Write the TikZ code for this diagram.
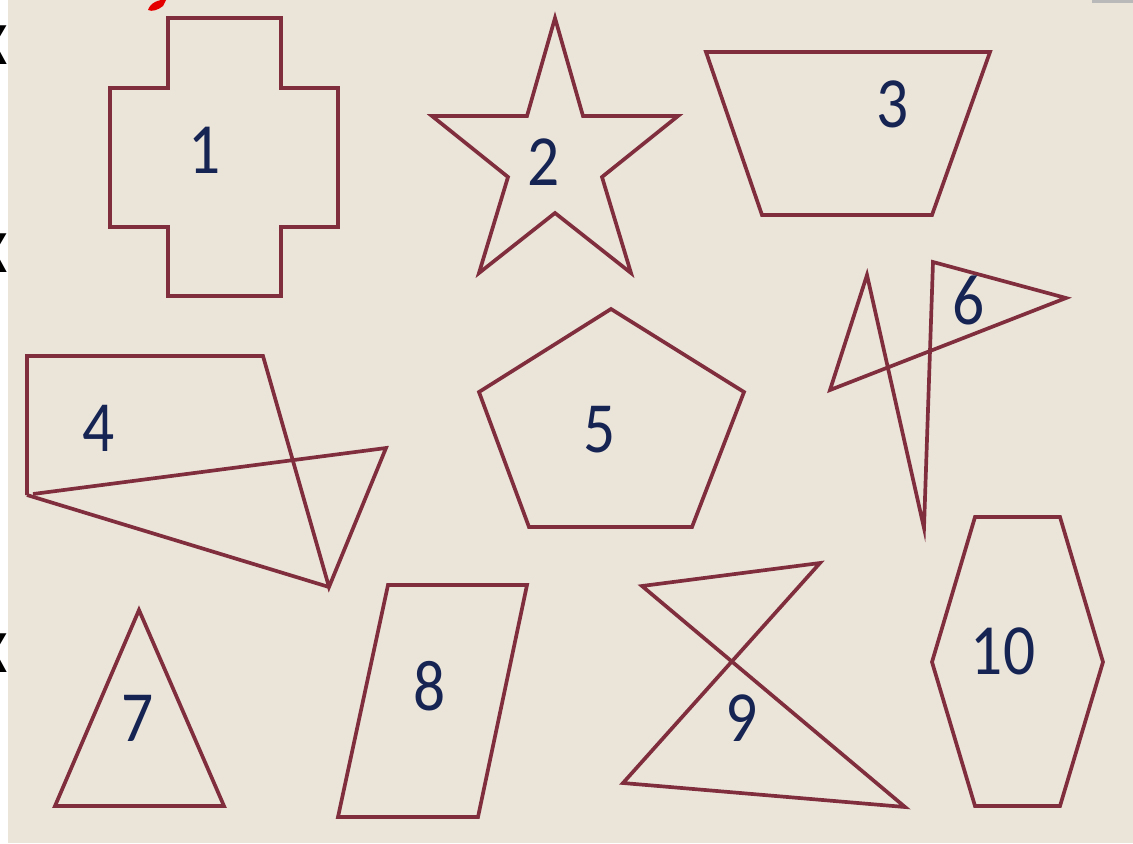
\documentclass[tikz,border=0pt]{standalone}
\usepackage{fontspec}
\setmainfont{Carlito}
\definecolor{shapeline}{RGB}{128,45,62}
\definecolor{labelblue}{RGB}{22,36,84}
\definecolor{paper}{RGB}{234,228,217}

\begin{document}
\begin{tikzpicture}[
    x=0.02cm,
    y=-0.02cm,
    outline/.style={
        draw=shapeline,
        line width=2.1pt,
        line join=miter
    },
    numlabel/.style={
        text=labelblue,
        inner sep=0pt,
        xscale=0.88,
        font=\fontsize{41}{48}\selectfont
    },
    edgeglyph/.style={
        anchor=east,
        inner sep=0pt,
        font=\fontsize{34}{40}\selectfont\bfseries
    }
]

% background
\fill[paper] (0,0) rectangle (1133,843);
\useasboundingbox (0,0) rectangle (1133,843);
\fill[white] (0,0) rectangle (8,843);
\fill[gray!55] (1092,0) rectangle (1133,3);
\fill[red!90!black] (148,10) .. controls (150,3) and (159,-1) .. (166,0) -- (163,6) .. controls (158,10) and (152,12) .. (148,10);

% cut-off letters at the left edge
\node[edgeglyph] (G1) at (8,45) {X};
\node[edgeglyph] (G2) at (8,253) {X};
\node[edgeglyph] (G3) at (8,653) {X};

% shape 1
\draw[outline] (168,18) -- (281,18) -- (281,88) -- (338,88) -- (338,227) -- (281,227)
    -- (281,296) -- (168,296) -- (168,227) -- (110,227) -- (110,88) -- (168,88) -- cycle;

% shape 2
\draw[outline] (555,18) -- (583,116) -- (678,116) -- (602,177) -- (631,273) -- (555,213)
    -- (479,273) -- (508,177) -- (432,116) -- (527,116) -- cycle;

% shape 3
\draw[outline] (706,52) -- (990,52) -- (932,215) -- (762,215) -- cycle;

% shape 4
\draw[outline] (27,495) -- (27,356) -- (263,356) -- (329,587) -- (386,448) -- (33,494);
\draw[outline] (27,495) -- (329,587);

% shape 5
\draw[outline] (611,309) -- (744,392) -- (692,527) -- (529,527) -- (479,392) -- cycle;

% shape 6
\draw[outline] (830,390) -- (867,275) -- (924,528) -- (933,262) -- (1066,298) -- cycle;

% shape 7
\draw[outline] (139,610) -- (224,806) -- (55,806) -- cycle;

% shape 8
\draw[outline] (388,585) -- (527,585) -- (478,817) -- (338,817) -- cycle;

% shape 9
\draw[outline] (642,586) -- (820,563) -- (623,783) -- (905,807) -- cycle;

% shape 10
\draw[outline] (975,517) -- (1060,517) -- (1103,662) -- (1060,806) -- (975,806) -- (932,662) -- cycle;

% numbers
\node[numlabel] (L1) at (205,150) {1};
\node[numlabel] (L2) at (544,162) {2};
\node[numlabel] (L3) at (893,104) {3};
\node[numlabel] (L4) at (99,428) {4};
\node[numlabel] (L5) at (600,430) {5};
\node[numlabel] (L6) at (969,300) {6};
\node[numlabel] (L7) at (138,718) {7};
\node[numlabel] (L8) at (430,686) {8};
\node[numlabel] (L9) at (742,718) {9};
\node[numlabel] (L10) at (1003,651) {10};

\end{tikzpicture}
\end{document}
